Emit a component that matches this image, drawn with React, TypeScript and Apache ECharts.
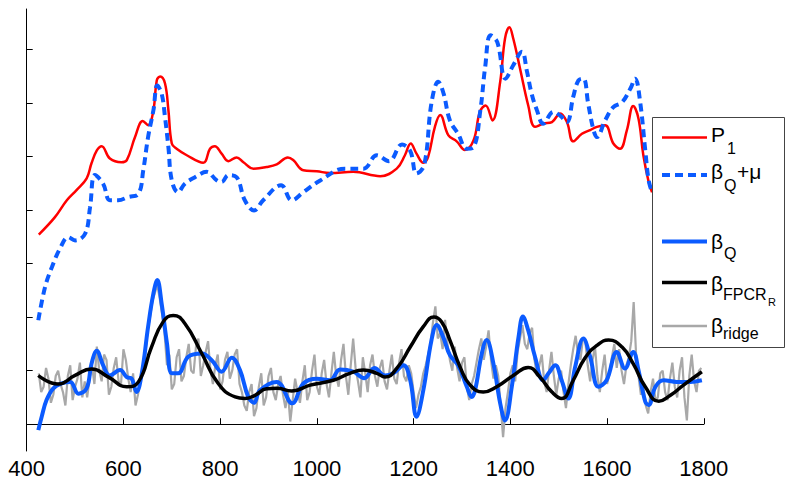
import React, { useEffect, useRef } from "react";
import * as echarts from "echarts";

// ---- data (x: wavenumber, y: value in tick units) ----
const p1: [number, number][] = [
  [425, 3.54], [458, 3.86], [483, 4.18], [503, 4.37], [524, 4.59], [534, 4.87], [545, 5.11], [555, 5.19],
  [572, 4.96], [596, 4.89], [607, 4.93], [624, 5.36], [640, 5.66], [651, 5.58], [662, 5.86], [669, 6.42],
  [676, 6.49], [686, 6.36], [693, 5.86], [700, 5.24], [710, 5.14], [731, 5.02], [765, 4.88], [779, 5.14],
  [789, 5.19], [803, 5.05], [817, 4.91], [834, 4.98], [848, 4.89], [869, 4.77], [896, 4.8], [917, 4.85],
  [940, 4.98], [951, 4.93], [972, 4.74], [1000, 4.72], [1027, 4.69], [1075, 4.71], [1131, 4.63], [1165, 4.77],
  [1182, 5.02], [1194, 5.24], [1206, 5.05], [1220, 4.88], [1230, 4.99], [1244, 5.55], [1255, 5.77], [1272, 5.39],
  [1289, 5.28], [1306, 5.12], [1324, 5.3], [1337, 5.83], [1349, 5.95], [1363, 5.67], [1379, 6.39], [1389, 7.2],
  [1398, 7.41], [1406, 7.2], [1420, 6.64], [1437, 5.95], [1451, 5.55], [1468, 5.61], [1486, 5.64], [1503, 5.8],
  [1517, 5.64], [1530, 5.28], [1548, 5.42], [1565, 5.49], [1579, 5.55], [1596, 5.58], [1613, 5.24], [1627, 5.14],
  [1641, 5.49], [1654, 5.94], [1665, 5.7], [1675, 5.02], [1686, 4.52], [1693, 4.33],
];

const betaQmu: [number, number][] = [
  [424, 1.94], [438, 2.56], [452, 2.93], [469, 3.28], [486, 3.49], [500, 3.43], [521, 3.56], [531, 4.05],
  [541, 4.65], [558, 4.49], [572, 4.18], [589, 4.18], [610, 4.24], [631, 4.3], [641, 4.74], [651, 5.36],
  [662, 5.86], [670, 6.32], [679, 6.17], [686, 5.73], [693, 5.17], [700, 4.55], [713, 4.33], [727, 4.49],
  [748, 4.61], [772, 4.71], [793, 4.55], [803, 4.52], [817, 4.65], [834, 4.61], [851, 4.18], [870, 3.99],
  [889, 4.18], [926, 4.46], [948, 4.18], [972, 4.33], [1007, 4.55], [1058, 4.77], [1096, 4.77], [1124, 5.02],
  [1149, 4.91], [1176, 5.22], [1193, 5.1], [1206, 4.68], [1222, 4.84], [1237, 6.0], [1251, 6.39], [1262, 6.17],
  [1275, 5.67], [1292, 5.42], [1310, 5.14], [1324, 5.17], [1338, 5.86], [1348, 6.67], [1359, 7.26], [1373, 7.13],
  [1390, 6.45], [1406, 6.7], [1424, 6.95], [1434, 6.6], [1444, 6.17], [1455, 5.86], [1468, 5.61], [1489, 5.83],
  [1503, 5.76], [1517, 5.64], [1530, 6.11], [1541, 6.42], [1551, 6.45], [1561, 5.98], [1572, 5.49], [1579, 5.36],
  [1596, 5.67], [1613, 5.92], [1631, 6.01], [1648, 6.26], [1658, 6.45], [1668, 6.04], [1679, 5.11], [1686, 4.55],
  [1693, 4.33],
];

const betaQ: [number, number][] = [
  [424, -0.11], [431, 0.14], [441, 0.45], [455, 0.67], [472, 0.76], [490, 0.79], [507, 0.57], [524, 0.67],
  [534, 1.13], [545, 1.37], [558, 1.1], [572, 0.91], [593, 1.01], [607, 0.88], [617, 0.85], [627, 0.6],
  [638, 0.95], [651, 1.82], [662, 2.44], [670, 2.69], [679, 2.25], [690, 1.51], [700, 0.95], [713, 0.95],
  [734, 1.26], [762, 1.32], [783, 1.19], [803, 0.98], [824, 1.24], [841, 1.01], [858, 0.51], [870, 0.4],
  [882, 0.63], [917, 0.79], [949, 0.39], [972, 0.76], [1000, 0.85], [1027, 0.82], [1048, 1.02], [1075, 0.98],
  [1098, 0.86], [1119, 1.05], [1141, 0.91], [1158, 0.95], [1179, 1.1], [1193, 0.82], [1206, 0.14], [1220, 0.63],
  [1237, 1.57], [1248, 1.85], [1261, 1.63], [1275, 1.29], [1292, 1.1], [1310, 0.7], [1320, 0.51], [1327, 0.63],
  [1341, 1.32], [1351, 1.57], [1365, 1.13], [1379, 0.39], [1389, 0.07], [1403, 0.7], [1417, 1.63], [1426, 2.01],
  [1437, 1.75], [1451, 1.26], [1468, 0.82], [1479, 0.95], [1493, 1.1], [1506, 0.82], [1520, 0.48], [1534, 1.07],
  [1551, 1.6], [1565, 1.26], [1582, 0.7], [1599, 0.82], [1620, 1.35], [1637, 1.04], [1654, 1.35], [1665, 1.01],
  [1679, 0.42], [1686, 0.36], [1700, 0.7], [1717, 0.82], [1744, 0.79], [1772, 0.79], [1796, 0.82],
];

const betaFPCR: [number, number][] = [
  [424, 0.91], [465, 0.75], [500, 0.91], [534, 1.03], [569, 0.88], [607, 0.7], [631, 0.79], [658, 1.44],
  [682, 1.91], [703, 2.03], [727, 1.88], [762, 1.32], [796, 0.76], [831, 0.51], [851, 0.48], [872, 0.54],
  [896, 0.66], [917, 0.67], [948, 0.62], [986, 0.73], [1034, 0.82], [1068, 0.95], [1096, 1.01], [1124, 0.95],
  [1141, 0.88], [1165, 1.04], [1193, 1.44], [1220, 1.82], [1242, 2.0], [1258, 1.91], [1275, 1.57], [1296, 1.07],
  [1317, 0.73], [1344, 0.6], [1372, 0.7], [1406, 0.91], [1437, 1.06], [1461, 0.88], [1486, 0.6], [1506, 0.48],
  [1530, 0.82], [1554, 1.23], [1579, 1.47], [1603, 1.57], [1631, 1.44], [1654, 1.13], [1679, 0.7], [1707, 0.43],
  [1731, 0.54], [1758, 0.73], [1796, 0.98],
];

const ridgeStart = 425;
const ridgeStep = 5;
const ridgeValues: number[] = [
  0.95, 0.6, 0.7, 1.05, 0.85, 0.4, 0.55, 0.9, 1.0, 0.75, 0.6, 0.35, 0.9, 1.1, 0.45, 0.7, 0.85, 1.15, 0.5, 0.8,
  0.5, 0.85, 1.1, 0.75, 1.45, 1.0, 0.8, 1.3, 1.2, 0.55, 0.7, 1.05, 1.25, 0.8, 0.75, 1.4, 1.2, 0.85, 0.6, 0.95,
  0.35, 0.55, 0.8, 1.05, 1.3, 1.75, 2.0, 2.3, 2.45, 2.6, 2.35, 2.05, 1.7, 1.1, 1.3, 0.65, 0.75, 1.25, 1.4, 0.8,
  0.9, 1.25, 1.5, 1.0, 0.95, 1.45, 1.6, 0.9, 1.1, 1.35, 1.55, 1.0, 0.75, 1.1, 1.3, 0.65, 0.8, 1.2, 1.35, 0.85,
  1.0, 1.3, 1.4, 0.75, 0.6, 0.35, 0.25, 0.6, 0.75, 0.15, 0.3, 0.7, 0.95, 0.35, 0.5, 0.9, 1.05, 0.6, 0.45, 0.75,
  0.9, 0.55, 0.3, 0.6, 0.05, 0.45, 0.85, 0.6, 0.4, 0.8, 1.1, 0.45, 0.6, 1.0, 1.3, 0.7, 0.55, 0.95, 1.2, 0.75,
  0.5, 0.95, 1.35, 0.9, 0.7, 1.2, 1.5, 0.9, 0.55, 1.1, 1.6, 1.05, 0.8, 0.5, 1.25, 0.95, 0.6, 1.1, 1.3, 0.9,
  0.7, 1.05, 1.2, 0.8, 0.65, 1.0, 1.3, 0.85, 0.75, 1.15, 1.4, 0.9, 0.8, 1.1, 0.95, 0.6, 0.3, 0.55, 0.7, 0.95,
  1.1, 1.3, 1.5, 1.9, 2.2, 1.6, 1.7, 1.4, 1.95, 1.5, 1.2, 1.0, 1.45, 1.05, 0.8, 1.15, 1.25, 0.7, 0.45, 0.75,
  0.9, 1.15, 1.4, 1.6, 1.2, 1.45, 1.75, 1.2, 0.85, 1.1, 0.9, 0.35, -0.24, 0.3, 0.6, 0.95, 1.1, 0.8, 1.35, 1.6,
  1.85, 1.5, 1.4, 1.7, 1.8, 1.2, 0.9, 1.1, 1.3, 0.8, 0.6, 1.0, 1.35, 0.9, 0.55, 0.85, 1.0, 0.6, 0.3, 0.75,
  1.1, 1.4, 1.65, 1.3, 1.2, 1.6, 1.55, 1.1, 0.8, 1.2, 1.45, 0.9, 0.6, 1.0, 1.3, 0.75, 0.95, 1.25, 1.5, 1.05,
  1.4, 1.0, 0.75, 1.1, 1.25, 1.55, 2.28, 1.3, 0.9, 0.55, 0.7, 0.35, 0.2, 0.6, 0.85, 0.45, 0.5, 0.95, 1.0, 0.6,
  0.45, 0.85, 1.15, 0.7, 0.5, 1.0, 1.25, 0.5, 0.07, 0.9, 1.3, 0.8, 0.6, 1.0, 1.05,
];

const xTicks = [400, 600, 800, 1000, 1200, 1400, 1600, 1800];
const yTicks = [0, 1, 2, 3, 4, 5, 6, 7];

const RED = "#ff0000";
const BLUE = "#0b5bff";
const BLACK = "#000000";
const GRAY = "#a8a8a8";
const FONT = "Liberation Sans, Arial, sans-serif";

export default function App() {
  const ref = useRef<HTMLDivElement>(null);

  useEffect(() => {
    if (!ref.current) return;
    const chart = echarts.init(ref.current, undefined, { renderer: "svg" });
    const ridge = ridgeValues.map((v, i) => [ridgeStart + i * ridgeStep, v]);

    const lx1 = 662;
    const lx2 = 707;
    const tx = 711;
    const txt = (text: string, x: number, y: number, size: number) => ({
      type: "text",
      x,
      y,
      style: { text, font: `${size}px ${FONT}`, fill: "#000", textAlign: "left", textVerticalAlign: "middle" },
      z: 101,
    });
    const lline = (y: number, color: string, width: number, dash?: number[]) => ({
      type: "line",
      shape: { x1: lx1, y1: y, x2: lx2, y2: y },
      style: { stroke: color, lineWidth: width, lineDash: dash },
      z: 101,
    });

    chart.setOption({
      animation: false,
      grid: { left: 26.7, right: 91.2, top: 9, bottom: 34, containLabel: false },
      xAxis: {
        type: "value",
        min: xTicks[0],
        max: xTicks[xTicks.length - 1],
        interval: 200,
        axisLine: { lineStyle: { color: "#000", width: 1 } },
        axisTick: { inside: true, length: 6, lineStyle: { color: "#000" } },
        axisLabel: {
          color: "#000",
          fontSize: 22,
          fontFamily: FONT,
          margin: 6,
          formatter: (v: number) => String(v),
        },
        splitLine: { show: false },
      },
      yAxis: {
        type: "value",
        min: -0.5,
        max: 7.75,
        axisLine: { show: true, lineStyle: { color: "#000", width: 1 } },
        axisTick: { show: true, inside: true, length: 6, lineStyle: { color: "#000" }, customValues: yTicks },
        axisLabel: { show: false },
        splitLine: { show: false },
      },
      series: [
        { name: "ridge", type: "line", data: ridge, showSymbol: false, lineStyle: { color: GRAY, width: 2.2 }, z: 1 },
        { name: "betaQ", type: "line", data: betaQ, showSymbol: false, smooth: 0.4, lineStyle: { color: BLUE, width: 4 }, z: 2 },
        { name: "FPCR", type: "line", data: betaFPCR, showSymbol: false, smooth: 0.5, lineStyle: { color: BLACK, width: 3.5 }, z: 3 },
        { name: "P1", type: "line", data: p1, showSymbol: false, smooth: 0.4, lineStyle: { color: RED, width: 2.5 }, z: 4 },
        { name: "betaQmu", type: "line", data: betaQmu, showSymbol: false, smooth: 0.4, lineStyle: { color: BLUE, width: 4, type: [8, 5] }, z: 5 },
      ],
      graphic: [
        {
          type: "rect",
          shape: { x: 652.5, y: 117.5, width: 132, height: 230 },
          style: { fill: "#fff", stroke: "#444", lineWidth: 1 },
          z: 100,
        },
        lline(137.5, RED, 2.5),
        lline(175, BLUE, 4, [8, 5]),
        lline(241.5, BLUE, 4),
        lline(282.5, BLACK, 3.5),
        lline(326, GRAY, 2.5),
        txt("P", tx, 134, 21),
        txt("1", 727, 148, 16),
        txt("β", tx, 171, 21),
        txt("Q", 724, 185.5, 16),
        txt("+μ", 737, 171, 21),
        txt("β", tx, 241, 21),
        txt("Q", 724, 253, 16),
        txt("β", tx, 283, 21),
        txt("FPCR", 723, 294.5, 16),
        txt("R", 768, 301.5, 11),
        txt("β", tx, 325, 21),
        txt("ridge", 723, 333, 16),
      ],
    });
    return () => chart.dispose();
  }, []);

  return <div ref={ref} style={{ position: "absolute", left: 0, top: 0, width: 795, height: 485 }} />;
}
